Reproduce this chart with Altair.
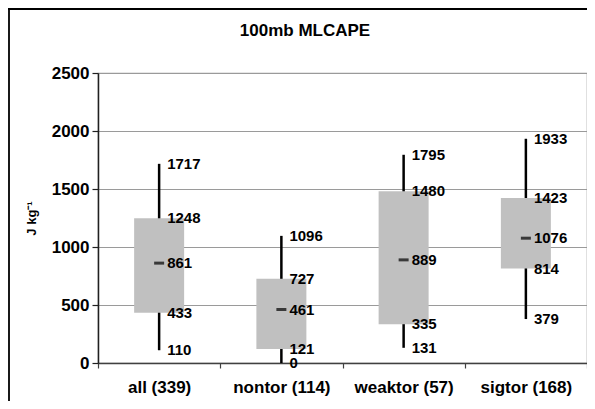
import altair as alt
import pandas as pd

categories = ["all (339)", "nontor (114)", "weaktor (57)", "sigtor (168)"]
whisker_low = [110, 0, 131, 379]
q1 = [433, 121, 335, 814]
median = [861, 461, 889, 1076]
q3 = [1248, 727, 1480, 1423]
whisker_high = [1717, 1096, 1795, 1933]
title_text = "100mb MLCAPE"

FONT = "Liberation Sans"
W, H = 489, 290

df = pd.DataFrame({
    "cat": categories,
    "lo": whisker_low,
    "q1": q1,
    "med": median,
    "q3": q3,
    "hi": whisker_high,
})

lab = pd.DataFrame(
    [{"cat": c, "v": v} for c, a, b, m, d, e in zip(categories, whisker_low, q1, median, q3, whisker_high)
     for v in (a, b, m, d, e)]
)

xenc = alt.X("cat:N", sort=categories, title=None,
             scale=alt.Scale(paddingInner=0, paddingOuter=0),
             axis=alt.Axis(labelFont=FONT, labelFontSize=17, labelFontWeight="bold",
                           labelColor="black", labelAngle=0, labelPadding=11,
                           domainColor="#404040", domainWidth=1.5,
                           tickColor="#404040", tickSize=5, tickWidth=1.2,
                           tickBand="extent", grid=False))

yscale = alt.Scale(domain=[0, 2500], nice=False)
yaxis = alt.Axis(values=[0, 500, 1000, 1500, 2000, 2500], format="d",
                 labelFont=FONT, labelFontSize=17, labelFontWeight="bold",
                 labelColor="black", labelPadding=3,
                 domainColor="#202020", domainWidth=1.5,
                 tickColor="#202020", tickSize=6, tickWidth=1.2,
                 gridColor="#9a9a9a", gridWidth=1,
                 title="J kg⁻¹", titleFont=FONT, titleFontSize=13,
                 titleFontWeight="bold", titleColor="black",
                 titleAngle=270, titleX=-67, titleY=145,
                 titleAlign="center", titleBaseline="middle")

base = alt.Chart(df)

whisk = base.mark_rule(color="black", strokeWidth=2.5).encode(
    x=xenc,
    y=alt.Y("lo:Q", scale=yscale, axis=yaxis),
    y2="hi:Q",
)

box = base.mark_bar(color="#c0c0c0", size=50).encode(
    x=alt.X("cat:N", sort=categories),
    y="q1:Q",
    y2="q3:Q",
)

med = base.mark_tick(color="black", size=10, thickness=3, orient="horizontal").encode(
    x=alt.X("cat:N", sort=categories),
    y="med:Q",
)

labels = alt.Chart(lab).mark_text(
    align="left", baseline="middle", dx=8, font=FONT, fontSize=15,
    fontWeight="bold", color="black"
).encode(
    x=alt.X("cat:N", sort=categories),
    y="v:Q",
    text="v:Q",
)

one = alt.Data(values=[{"t": title_text}])

title = alt.Chart(one).mark_text(
    align="center", baseline="middle", font=FONT, fontSize=17,
    fontWeight="bold", color="black"
).encode(x=alt.value(207), y=alt.value(-42), text="t:N")

border_left = alt.Chart(one).mark_rule(color="black", strokeWidth=1.8).encode(
    x=alt.value(-89), y=alt.value(-64), y2=alt.value(H + 38),
)
border_top = alt.Chart(one).mark_rule(color="black", strokeWidth=1.8).encode(
    x=alt.value(-90), x2=alt.value(W), y=alt.value(-64),
)

chart = alt.layer(whisk, box, med, labels, title, border_left, border_top).properties(
    width=W, height=H,
    autosize=alt.AutoSizeParams(type="none"),
    padding={"left": 90, "top": 65, "right": 0, "bottom": 38},
).configure_view(stroke="#9a9a9a", strokeWidth=1.2)

chart.save("out.html", embed_options={"renderer": "svg", "actions": False})
